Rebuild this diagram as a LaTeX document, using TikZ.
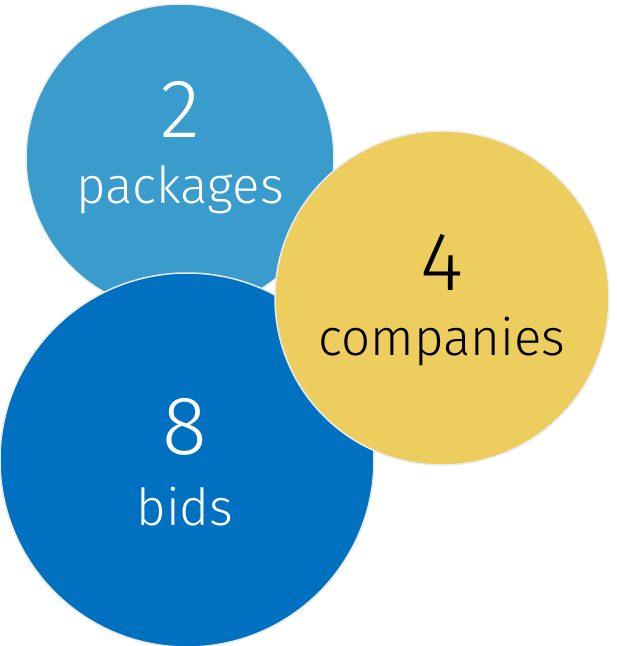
\documentclass[tikz,border=0pt]{standalone}
\usepackage{fontspec}
\setmainfont{Fira Sans}[UprightFont=* Light]
\usepackage{tikz}
\definecolor{myLightBlue}{RGB}{58,155,205}
\definecolor{myDarkBlue}{RGB}{0,112,192}
\definecolor{myYellow}{RGB}{237,205,93}
\definecolor{myRim}{RGB}{235,235,235}

\begin{document}
\begin{tikzpicture}[%
	x=1pt, y=-1pt,
	bubble/.style={
		circle,
		draw=myRim,
		line width=1.5pt,
		inner sep=0pt,
	},
	number/.style={
		anchor=base,
		font=\fontsize{83}{83}\selectfont,
	},
	caption/.style={
		anchor=base,
		font=\fontsize{51}{51}\selectfont,
	},
	]
	\useasboundingbox (0,0) rectangle (617,646);
	
	% draw the three circles, back to front
	\node[bubble, fill=myLightBlue, minimum size=308pt] (pkg) at (180,158) {};
	\node[bubble, fill=myDarkBlue, minimum size=374pt] (bid) at (187,460) {};
	\node[bubble, fill=myYellow, minimum size=334pt] (com) at (442,298) {};
	
	% place numbers and captions
	\node[number, text=white] (pkgnum) at (180,137) {2};
	\node[caption, text=white] (pkgtxt) at (180,203) {packages};
	
	\node[number, text=black] (comnum) at (442,290) {4};
	\node[caption, text=black] (comtxt) at (442,355) {companies};
	
	\node[number, text=white] (bidnum) at (185,454) {8};
	\node[caption, text=white] (bidtxt) at (185,525) {bids};
\end{tikzpicture}
\end{document}
